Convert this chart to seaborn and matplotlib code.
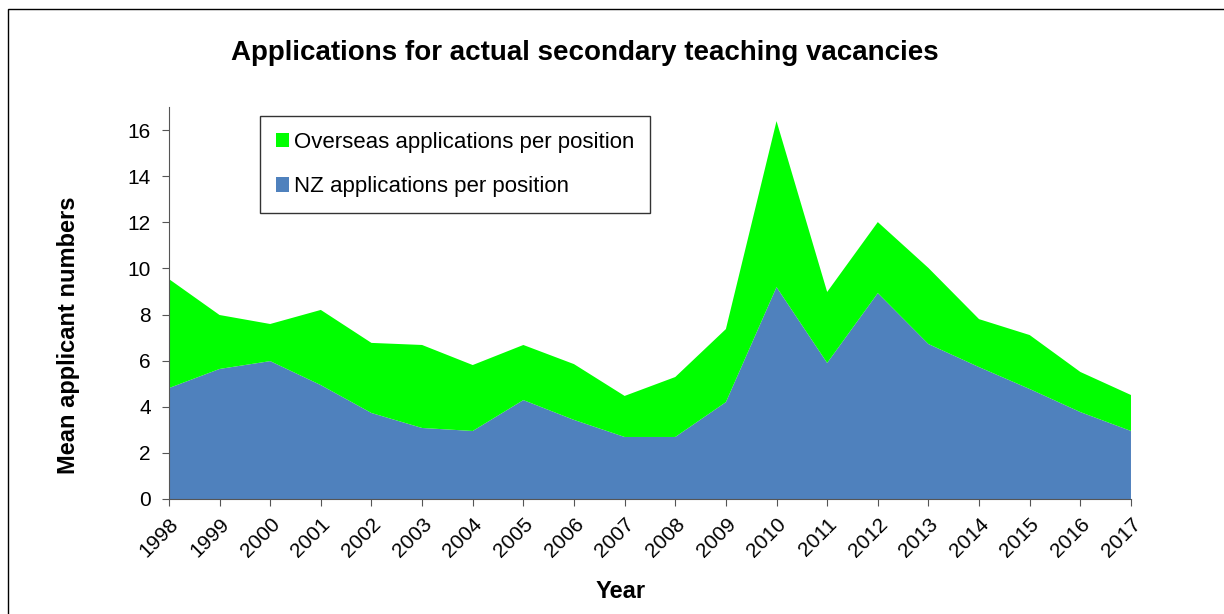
import numpy as np
import matplotlib
matplotlib.use("Agg")
import matplotlib.pyplot as plt
import seaborn as sns
from matplotlib.patches import Rectangle

years = list(range(1998, 2018))
nz_apps = [4.81, 5.64, 5.98, 4.94, 3.73, 3.08, 2.95, 4.29, 3.43, 2.69,
           2.69, 4.20, 9.19, 5.90, 8.93, 6.72, 5.72, 4.77, 3.77, 2.95]
overseas_apps = [4.73, 2.34, 1.61, 3.26, 3.04, 3.60, 2.86, 2.39, 2.42, 1.78,
                 2.60, 3.17, 7.20, 3.08, 3.08, 3.30, 2.08, 2.34, 1.74, 1.56]
labels = ["NZ applications per position", "Overseas applications per position"]

sns.set_style("ticks")
plt.rcParams['font.family'] = ['Liberation Sans', 'DejaVu Sans']
plt.rcParams.update({'text.color': 'black', 'axes.labelcolor': 'black',
                     'xtick.labelcolor': 'black', 'ytick.labelcolor': 'black'})

fig = plt.figure(figsize=(12.24, 6.14), dpi=100)
ax = fig.add_axes([0.138, 0.1873, 0.786, 0.6384])

# outer frame of the chart area
fig.patches.append(Rectangle((8 / 1224, -0.1), 1.2, 1 - 9 / 614 + 0.1,
                             transform=fig.transFigure, fill=False,
                             edgecolor='black', linewidth=1))

ax.stackplot(years, nz_apps, overseas_apps,
             colors=['#4F81BD', '#00FF00'], labels=labels, edgecolor='none')

ax.set_xlim(1998, 2017)
ax.set_ylim(0, 17)
ax.set_yticks(range(0, 17, 2))
ax.set_xticks(years)
ax.set_xticklabels([str(y) for y in years], rotation=45, ha='right',
                   rotation_mode='anchor')
ax.tick_params(axis='both', labelsize=15, length=5, color='#555555')
ax.tick_params(axis='y', pad=8)
ax.tick_params(axis='x', pad=6)
sns.despine(ax=ax)
ax.spines['left'].set_color('#555555')
ax.spines['bottom'].set_color('#555555')

ax.set_xlabel('Year', fontsize=17, fontweight='bold')
ax.set_ylabel('Mean applicant numbers', fontsize=17, fontweight='bold')
ax.xaxis.set_label_coords(0.47, -0.207)
ax.yaxis.set_label_coords(-0.092, 0.418)
fig.text(0.478, 0.913, 'Applications for actual secondary teaching vacancies',
         ha='center', va='center', fontsize=20, fontweight='bold')

handles, labs = ax.get_legend_handles_labels()
leg = ax.legend(handles[::-1], labs[::-1], loc='upper left',
                bbox_to_anchor=(0.095, 0.976), fontsize=16,
                frameon=True, fancybox=False, edgecolor='black',
                handlelength=0.6, handleheight=0.6, handletextpad=0.2,
                labelspacing=1.05, borderpad=0.7, borderaxespad=0)
leg.get_frame().set_linewidth(1)

fig.savefig('out.png', dpi=100)
